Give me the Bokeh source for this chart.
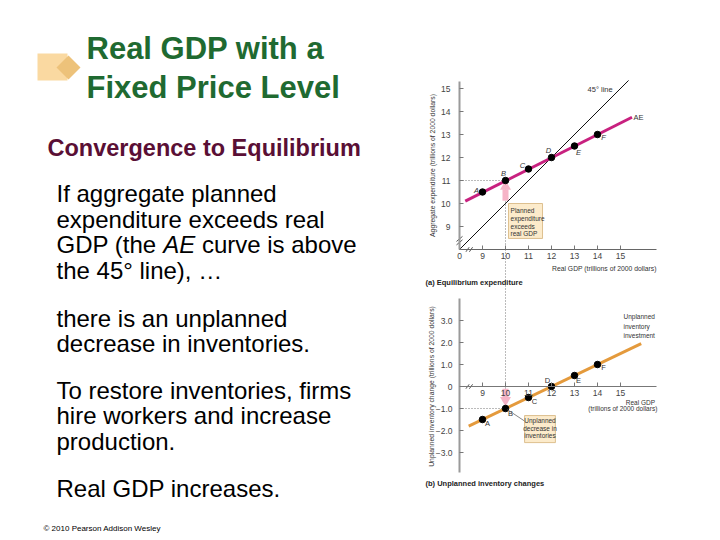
from bokeh.plotting import figure
from bokeh.layouts import row, column
from bokeh.models import Range1d, FixedTicker, LinearAxis, ColumnDataSource
from bokeh.core.properties import value
from bokeh.embed import file_html
from bokeh.resources import INLINE
import math

# ---------------- data ----------------
gdp = [9, 10, 11, 12, 13, 14]
point_names = ["A", "B", "C", "D", "E", "F"]
aggregate_expenditure = [10.5, 11.0, 11.5, 12.0, 12.5, 13.0]
inventory_change = [-1.5, -1.0, -0.5, 0.0, 0.5, 1.0]
ae_curve_x = [8.25, 15.5]
ae_curve_y = [10.1, 13.75]
line45_x = [8.0, 15.35]
inv_curve_x = [8.4, 15.9]
inv_curve_y = [-1.8, 1.95]
x_ticks = [8, 9, 10, 11, 12, 13, 14, 15]
ae_y_ticks = [9, 10, 11, 12, 13, 14, 15]
inv_y_ticks = [-3, -2, -1, 0, 1, 2, 3]
inv_y_tick_labels = ["\u22123.0", "\u22122.0", "\u22121.0", "0", "1.0", "2.0", "3.0"]

title_lines = ["Real GDP with a", "Fixed Price Level"]
subtitle = "Convergence to Equilibrium"
para1 = ["If aggregate planned", "expenditure exceeds real", "the 45\u00b0 line), \u2026"]
para1_line3 = ["GDP (the", "AE", "curve is above"]
para2 = ["there is an unplanned", "decrease in inventories."]
para3 = ["To restore inventories, firms", "hire workers and increase", "production."]
para4 = ["Real GDP increases."]
footer = "\u00a9 2010 Pearson Addison Wesley"

FONT = "Liberation Sans"
LW = 364  # width of the text column

# ---------------- left text column ----------------
L = figure(width=LW, height=540, x_range=Range1d(0, LW), y_range=Range1d(540, 0),
           output_backend="svg", toolbar_location=None,
           x_axis_location=None, y_axis_location=None, min_border=0)
L.grid.visible = False
L.outline_line_color = None

L.quad(left=37, right=67, top=53, bottom=80, fill_color="#FAD9A1", line_color=None)
L.scatter(x=[68], y=[67], marker="square", angle=math.pi / 4, size=17,
          fill_color="#EDC27A", line_color=None)

L.text(x=[86, 86], y=[48, 87], text=title_lines, text_font=value(FONT),
       text_font_size="31px", text_font_style="bold", text_color="#1F6A31",
       text_baseline="middle")
L.text(x=[47], y=[147], text=[subtitle], text_font=value(FONT),
       text_font_size="23.5px", text_font_style="bold", text_color="#5A0F35",
       text_baseline="middle")

BS = 24
def body(xs, ys, txt, style="normal"):
    L.text(x=xs, y=ys, text=txt, text_font=value(FONT), text_font_size=f"{BS}px",
           text_font_style=style, text_color="#000000", text_baseline="middle")

body([56, 56, 56], [193, 218.5, 269.5], para1)
# mixed-style line; advance widths from Arial metrics (1/1000 em)
w_prefix = (778 + 722 + 667 + 278 + 333 + 278 + 556 + 556 + 278) * BS / 1000
w_ae = (667 + 667 + 278) * BS / 1000
body([56], [244], [para1_line3[0]])
body([56 + w_prefix], [244], [para1_line3[1]], "italic")
body([56 + w_prefix + w_ae], [244], [para1_line3[2]])
body([56, 56], [317.5, 343], para2)
body([56, 56, 56], [389.5, 415, 440.5], para3)
body([56], [487.5], para4)

L.text(x=[43], y=[528], text=[footer], text_font=value(FONT), text_font_size="8px",
       text_color="#000000", text_baseline="middle")

# ---------------- chart column (both panels share one frame) ----------------
FIG_L = LW
FR_L, FR_B = 420, 510            # frame left / bottom in page pixels
PX = 23.0                          # px per GDP unit (x) and per unit of panel (a) y
PXB = 22.0                         # px per unit of panel (b) y
X0_PX, A8_PX, B0_PX = 459, 249, 386

x_start = 8 - (X0_PX - FR_L) / PX
x_end = 8 + (720 - X0_PX) / PX
ya_top = 8 + A8_PX / PX
ya_bot = 8 - (FR_B - A8_PX) / PX
yb_top = B0_PX / PXB
yb_bot = -(FR_B - B0_PX) / PXB

def a_to_b(ya):
    return (B0_PX - (A8_PX - (ya - 8) * PX)) / PXB

def px_x(px):
    return 8 + (px - X0_PX) / PX

def px_yb(px):
    return (B0_PX - px) / PXB

R = figure(width=720 - FIG_L, height=540, x_range=Range1d(x_start, x_end),
           y_range=Range1d(ya_bot, ya_top), output_backend="svg", toolbar_location=None,
           min_border_left=FR_L - FIG_L, min_border_right=0, min_border_top=0,
           min_border_bottom=540 - FR_B)
R.extra_y_ranges = {"b": Range1d(yb_bot, yb_top)}
R.grid.visible = False
R.outline_line_color = None

xb_axis = LinearAxis(y_range_name="b")
yb_axis = LinearAxis(y_range_name="b")
R.add_layout(xb_axis, "below")
R.add_layout(yb_axis, "left")

for ax in R.axis:
    ax.major_tick_in = 4
    ax.major_tick_out = 0
    ax.minor_tick_line_color = None
    ax.major_label_text_font = FONT
    ax.major_label_text_font_size = "8.5px"
    ax.major_label_text_color = "#444444"
    ax.major_tick_line_color = "#777777"

xa_axis = R.xaxis[0]
ya_axis = R.yaxis[0]
xa_axis.ticker = FixedTicker(ticks=x_ticks)
xa_axis.major_label_overrides = {8: "0"}
xa_axis.bounds = (8, 16.57)
xa_axis.fixed_location = 8
xa_axis.major_label_standoff = 3
xa_axis.axis_line_color = "#666666"
ya_axis.ticker = FixedTicker(ticks=ae_y_ticks)
ya_axis.bounds = (8, 15.3)
ya_axis.fixed_location = 8
ya_axis.major_label_standoff = 9
ya_axis.axis_line_color = "#9A9A9A"
ya_axis.axis_line_width = 2

xb_axis.ticker = FixedTicker(ticks=x_ticks[1:])
xb_axis.bounds = (8, 16.57)
xb_axis.fixed_location = 0
xb_axis.major_label_standoff = 3
xb_axis.axis_line_color = "#777777"
yb_axis.ticker = FixedTicker(ticks=inv_y_ticks)
yb_axis.major_label_overrides = dict(zip(inv_y_ticks, inv_y_tick_labels))
yb_axis.bounds = (-3.9, 4.0)
yb_axis.fixed_location = 8
yb_axis.major_label_standoff = 7
yb_axis.axis_line_color = "#9A9A9A"
yb_axis.axis_line_width = 2

TXT = "#333333"
SMALL = "7.5px"
DOT = dict(line_color="#777777", line_dash="1 2", line_width=1)
PINK = "#F6B4C7"

# ----- panel (a) -----
R.line(x=[8, 10], y=[11, 11], **DOT)
R.line(x=[10, 10], y=[a_to_b(11), -1], y_range_name="b", **DOT)
R.segment(x0=[10], y0=[10.12], x1=[10], y1=[10.62], line_color=PINK, line_width=6)
R.scatter(x=[10], y=[10.74], marker="triangle", size=11, fill_color=PINK, line_color=None)
R.line(x=line45_x, y=line45_x, line_color="#111111", line_width=1)
R.line(x=ae_curve_x, y=ae_curve_y, line_color="#C8217F", line_width=3)
R.scatter(x=gdp, y=aggregate_expenditure, size=6.5, fill_color="black", line_color="black")
src_a = ColumnDataSource(dict(x=gdp, y=aggregate_expenditure, t=point_names,
                              dx=[-6, -2, -6, -3, 4, 6], dy=[-2, -7, -4, -7, 6, 3]))
R.text(x="x", y="y", text="t", x_offset="dx", y_offset="dy", source=src_a,
       text_font=value(FONT), text_font_size=SMALL, text_font_style="italic",
       text_color=TXT, text_align="center", text_baseline="middle")
for yb in (8.3, 8.45):
    R.segment(x0=[7.87], y0=[yb - 0.1], x1=[8.13], y1=[yb + 0.12], line_color="#555555", line_width=1)
for xb in (8.35, 8.5):
    R.segment(x0=[xb - 0.07], y0=[7.9], x1=[xb + 0.07], y1=[8.1], line_color="#555555", line_width=1)
R.quad(left=10.13, right=11.61, top=10.0, bottom=8.48, fill_color="#FCEBCB",
       line_color="#D4B27A", line_width=0.8)
R.text(x=[10.22] * 4, y=[9.7, 9.35, 9.0, 8.68],
       text=["Planned", "expenditure", "exceeds", "real GDP"],
       text_font=value(FONT), text_font_size="6.5px", text_color=TXT, text_baseline="middle")
R.text(x=[13.57], y=[14.96], text=["45\u00b0 line"], text_font=value(FONT),
       text_font_size=SMALL, text_color=TXT, text_baseline="middle")
R.text(x=[15.57], y=[13.75], text=["AE"], text_font=value(FONT),
       text_font_size=SMALL, text_color=TXT, text_baseline="middle")
R.text(x=[px_x(432)], y=[8 + (A8_PX - 165) / PX],
       text=["Aggregate expenditure (trillions of 2000 dollars)"], angle=math.pi / 2,
       text_font=value(FONT), text_font_size="6.8px", text_color=TXT,
       text_align="center", text_baseline="middle")
R.text(x=[16.57], y=[px_yb(268)], y_range_name="b", text=["Real GDP (trillions of 2000 dollars)"],
       text_font=value(FONT), text_font_size="6.8px", text_color=TXT,
       text_align="right", text_baseline="middle")
R.text(x=[px_x(425)], y=[px_yb(282)], y_range_name="b", text=["(a) Equilibrium expenditure"],
       text_font=value(FONT), text_font_size="7.5px", text_font_style="bold",
       text_color="#222222", text_baseline="middle")

# ----- panel (b) -----
R.line(x=[8, 10], y=[-1, -1], y_range_name="b", **DOT)
R.segment(x0=[10], y0=[-0.1], x1=[10], y1=[-0.5], y_range_name="b", line_color=PINK, line_width=6)
R.scatter(x=[10], y=[-0.62], y_range_name="b", marker="inverted_triangle", size=11,
          fill_color=PINK, line_color=None)
R.line(x=inv_curve_x, y=inv_curve_y, y_range_name="b", line_color="#E49A3C", line_width=3)
R.scatter(x=gdp, y=inventory_change, y_range_name="b", size=6.5, fill_color="black", line_color="black")
src_b = ColumnDataSource(dict(x=gdp, y=inventory_change, t=point_names,
                              dx=[5, 5, 6, -4, 4, 6], dy=[4, 5, 4, -6, 5, 3]))
R.text(x="x", y="y", text="t", x_offset="dx", y_offset="dy", source=src_b, y_range_name="b",
       text_font=value(FONT), text_font_size=SMALL, text_color=TXT,
       text_align="center", text_baseline="middle")
for xb in (8.35, 8.5):
    R.segment(x0=[xb - 0.07], y0=[-0.1], x1=[xb + 0.07], y1=[0.1], y_range_name="b",
              line_color="#555555", line_width=1)
R.line(x=[10.08, 10.9], y=[-1.05, -1.62], y_range_name="b", line_color="#666666", line_width=0.8)
R.quad(left=10.83, right=12.17, top=-1.32, bottom=-2.55, y_range_name="b", fill_color="#FCEBCB",
       line_color="#D4B27A", line_width=0.8)
R.text(x=[11.5] * 3, y=[-1.55, -1.9, -2.24], y_range_name="b",
       text=["Unplanned", "decrease in", "inventories"],
       text_font=value(FONT), text_font_size="6.5px", text_color=TXT,
       text_align="center", text_baseline="middle")
R.text(x=[15.13] * 3, y=[3.18, 2.75, 2.33], y_range_name="b",
       text=["Unplanned", "inventory", "investment"],
       text_font=value(FONT), text_font_size="6.5px", text_color=TXT, text_baseline="middle")
R.text(x=[16.5, 16.6], y=[-0.72, -1.02], y_range_name="b",
       text=["Real GDP", "(trillions of 2000 dollars)"],
       text_font=value(FONT), text_font_size="6.5px", text_color=TXT,
       text_align="right", text_baseline="middle")
R.text(x=[px_x(431)], y=[0.0], y_range_name="b",
       text=["Unplanned inventory change (trillions of 2000 dollars)"], angle=math.pi / 2,
       text_font=value(FONT), text_font_size="6.8px", text_color=TXT,
       text_align="center", text_baseline="middle")
R.text(x=[px_x(425)], y=[px_yb(483)], y_range_name="b", text=["(b) Unplanned inventory changes"],
       text_font=value(FONT), text_font_size="7.5px", text_font_style="bold",
       text_color="#222222", text_baseline="middle")

# wrap each figure in its own column so the row does not align their frames
layout = row(column(L), column(R))
open("out.html", "w").write(file_html(layout, INLINE))
